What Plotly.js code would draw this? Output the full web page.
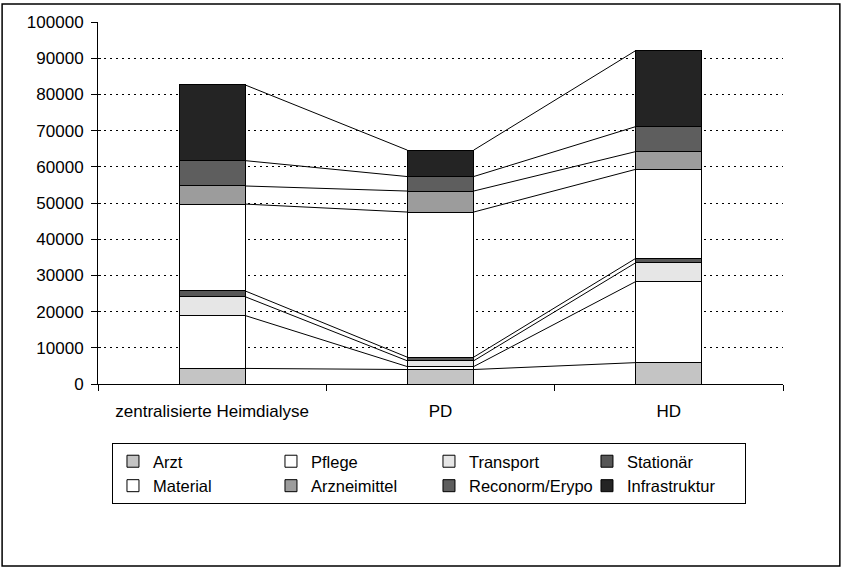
<!DOCTYPE html>
<html>
<head>
<meta charset="utf-8">
<script src="https://cdn.plot.ly/plotly-3.0.1.min.js"></script>
<style>
html,body{margin:0;padding:0;background:#fff;}
#chart{width:845px;height:573px;}
</style>
</head>
<body>
<div id="chart"></div>
<script>
// ---- data ----
var categories = ['zentralisierte Heimdialyse', 'PD', 'HD'];
var seriesNames = ['Arzt', 'Pflege', 'Transport', 'Stationär', 'Material', 'Arzneimittel', 'Reconorm/Erypo', 'Infrastruktur'];
var arzt          = [4300, 4000, 5900];
var pflege        = [14600, 800, 22400];
var transport     = [5200, 1600, 5200];
var stationaer    = [1600, 1000, 1200];
var material      = [24000, 40100, 24600];
var arzneimittel  = [5000, 5800, 4900];
var reconorm      = [7000, 4000, 6900];
var infrastruktur = [20900, 7300, 21000];
var yTickVals = [0, 10000, 20000, 30000, 40000, 50000, 60000, 70000, 80000, 90000, 100000];
var yTickText = ['0', '10000', '20000', '30000', '40000', '50000', '60000', '70000', '80000', '90000', '100000'];

// ---- styling ----
var seriesValues = [arzt, pflege, transport, stationaer, material, arzneimittel, reconorm, infrastruktur];
var colors = ['#c4c4c4', '#ffffff', '#e6e6e6', '#575757', '#ffffff', '#9c9c9c', '#5e5e5e', '#242424'];
var FONT = 'Liberation Sans, Arial, sans-serif';
var barW = 0.29;
var xIdx = categories.map(function (c, i) { return i; });

var traces = [];
var cum = categories.map(function () { return 0; });
seriesValues.forEach(function (vals, k) {
  traces.push({
    type: 'bar', name: seriesNames[k], x: xIdx, y: vals, width: barW,
    marker: {color: colors[k], line: {color: '#000', width: 1}},
    hoverinfo: 'name+y'
  });
  cum = cum.map(function (c, i) { return c + vals[i]; });
  // series connector lines between the stacked bars
  var lx = [], ly = [];
  for (var i = 0; i < categories.length - 1; i++) {
    lx.push(i + barW / 2, i + 1 - barW / 2, null);
    ly.push(cum[i], cum[i + 1], null);
  }
  traces.push({
    type: 'scatter', mode: 'lines', x: lx, y: ly, showlegend: false,
    hoverinfo: 'skip', line: {color: '#000', width: 1}
  });
});

var boundaries = [];
for (var b = 0; b <= categories.length; b++) boundaries.push(b - 0.5);

var layout = {
  width: 845, height: 573,
  margin: {l: 98, r: 62, t: 22, b: 189},
  paper_bgcolor: '#fff', plot_bgcolor: '#fff',
  barmode: 'stack',
  font: {family: FONT, size: 17, color: '#000'},
  showlegend: true,
  xaxis: {
    range: [-0.5, categories.length - 0.5], tickmode: 'array',
    tickvals: xIdx, ticktext: categories, ticks: '',
    showline: true, linecolor: '#000', linewidth: 1,
    showgrid: false, zeroline: false, fixedrange: true,
    ticklabelstandoff: 12, tickfont: {family: FONT, size: 17, color: '#000'}
  },
  xaxis2: {
    overlaying: 'x', anchor: 'y', side: 'bottom',
    range: [-0.5, categories.length - 0.5], tickmode: 'array',
    tickvals: boundaries, ticks: 'outside', ticklen: 6, tickcolor: '#000',
    showticklabels: false, showgrid: false, zeroline: false, showline: false
  },
  yaxis: {
    range: [0, 100000], tickmode: 'array', tickvals: yTickVals, ticktext: yTickText,
    ticks: 'outside', ticklen: 6, tickcolor: '#000', tickwidth: 1,
    showline: true, linecolor: '#000', linewidth: 1,
    showgrid: true, gridcolor: '#000', gridwidth: 1, griddash: '2px,4px',
    zeroline: false, fixedrange: true, ticklabelstandoff: 4,
    tickfont: {family: FONT, size: 17, color: '#000'}
  },
  yaxis2: {
    overlaying: 'y', anchor: 'x', side: 'left',
    range: [0, 100000], tickmode: 'array', tickvals: yTickVals,
    ticks: 'inside', ticklen: 3, tickcolor: '#000',
    showticklabels: false, showgrid: false, zeroline: false, showline: false
  },
  legend: {
    orientation: 'h', x: 0.0204, xanchor: 'left', y: -0.163, yanchor: 'top',
    traceorder: 'normal', entrywidth: 113, entrywidthmode: 'pixels',
    bordercolor: '#000', borderwidth: 1, bgcolor: '#fff',
    font: {family: FONT, size: 16.5, color: '#000'}
  },
  shapes: [{
    type: 'rect', xref: 'paper', yref: 'paper',
    x0: -0.14, x1: 1.083, y0: -0.503, y1: 1.0497,
    line: {color: '#000', width: 1.5}, fillcolor: 'rgba(0,0,0,0)', layer: 'below'
  }]
};

// invisible helper trace so the overlay axes (boundary / crossing ticks) are drawn
traces.push({type: 'scatter', x: [0], y: [0], xaxis: 'x2', yaxis: 'y2', mode: 'markers',
  marker: {opacity: 0}, showlegend: false, hoverinfo: 'skip'});

Plotly.newPlot('chart', traces, layout, {displayModeBar: false, staticPlot: true});
</script>
</body>
</html>
